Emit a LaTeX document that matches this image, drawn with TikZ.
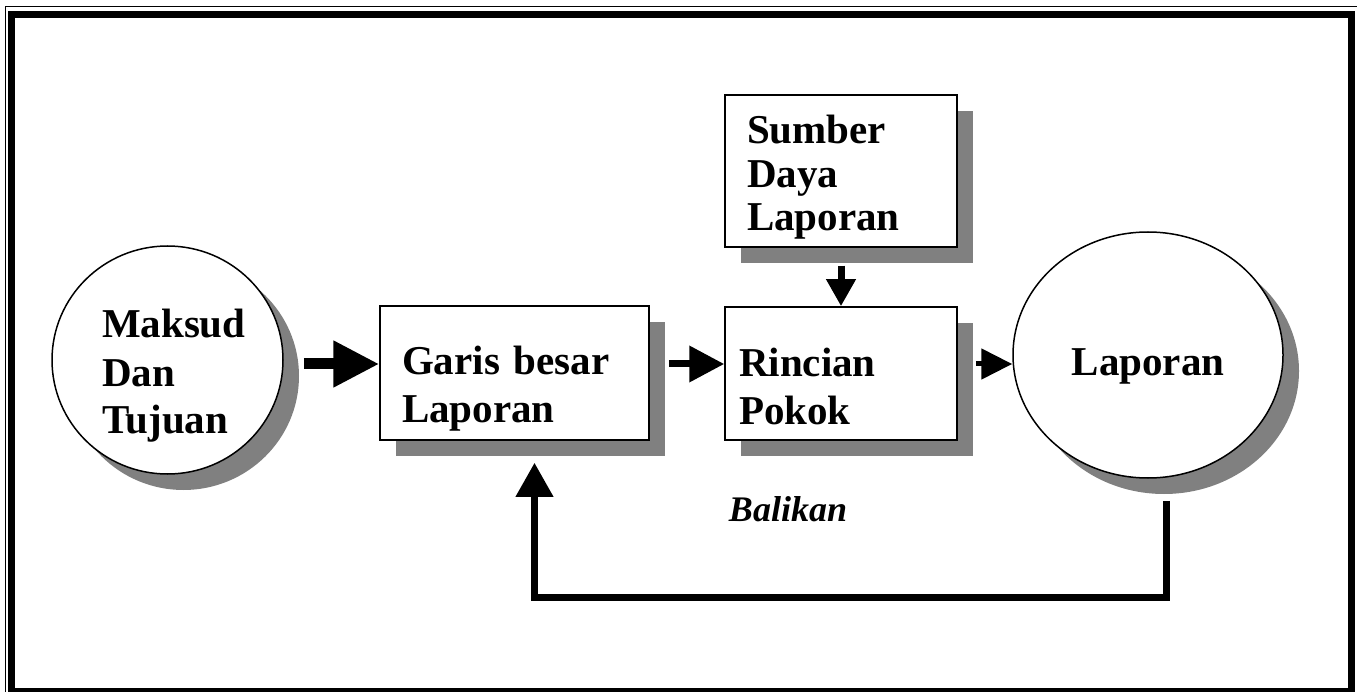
\documentclass[tikz,border=0pt]{standalone}
\usepackage{fontspec}
\setmainfont{Liberation Serif}
\usepackage{tikz}
\usetikzlibrary{shapes,arrows.meta,shadows}

\begin{document}
\begin{tikzpicture}[x=1pt,y=-1pt]
		\tikzstyle{every node}=[inner sep=0pt, font=\bfseries\fontsize{41}{48}\selectfont];
		\tikzstyle{shade}=[drop shadow={shadow xshift=16pt, shadow yshift=-16pt, fill=black!50, opacity=1}];
		\tikzstyle{box}=[draw, line width=1.5pt, fill=white, shape=rectangle, align=left, text height=28pt, shade];
		\tikzstyle{bubble}=[draw, line width=1.5pt, fill=white, shape=ellipse, shade];
		\tikzstyle{bigarrow}=[line width=11pt, -{Triangle[length=46pt, width=44pt]}];
		\tikzstyle{midarrow}=[line width=7pt, -{Triangle[length=35pt, width=35pt]}];
		\tikzstyle{smallarrow}=[line width=5pt, -{Triangle[length=31pt, width=30pt]}];
		\useasboundingbox (0,0) rectangle (1357,692);
		\draw[line width=1.5pt] (5.5,6.5) rectangle (1358,698);
		\draw[line width=7pt] (11.5,14.5) rectangle (1351.5,691.5);
		\coordinate (row) at (0,364);
		\node[bubble, minimum width=231pt, minimum height=228pt, text width=131pt, align=left, text height=28pt, text depth=72pt] (maksud) at (167.5,360) {Maksud\\Dan\\Tujuan};
		\node[box, minimum width=269pt, minimum height=134pt, text width=225pt, text depth=26pt] (garis) at (514.5,373) {Garis besar\\Laporan};
		\node[box, minimum width=232pt, minimum height=152pt, text width=188pt, text depth=82pt, font=\bfseries\fontsize{41}{43.5}\selectfont] (sumber) at (841,171) {Sumber\\Daya\\Laporan};
		\node[box, minimum width=232pt, minimum height=133pt, text width=204pt, text depth=21pt] (rincian) at (841,373.5) {Rincian\\Pokok};
		\node[bubble, minimum width=270pt, minimum height=246pt, text height=49pt, text depth=9pt] (laporan) at (1148,355) {Laporan};
		\node[font=\bfseries\itshape\fontsize{36}{42}\selectfont, anchor=base] (balikan) at (788,521) {Balikan};
		\draw[bigarrow] ([xshift=20pt]maksud.east |- row) -- (garis.west |- row);
		\draw[midarrow] ([xshift=19pt]garis.east |- row) -- (rincian.west |- row);
		\draw[smallarrow] ([xshift=18pt]rincian.east |- row) -- (laporan.west |- row);
		\draw[line width=7pt, -{Triangle[length=27pt, width=28pt]}] ([yshift=-18pt]sumber.south) -- (rincian.north);
		\draw[line width=7pt, -{Triangle[length=34pt, width=36pt]}] ([xshift=18pt, yshift=-22pt]laporan.south) -- ++(0,97) -| ([xshift=20pt, yshift=-22pt]garis.south);
	\end{tikzpicture}
\end{document}
